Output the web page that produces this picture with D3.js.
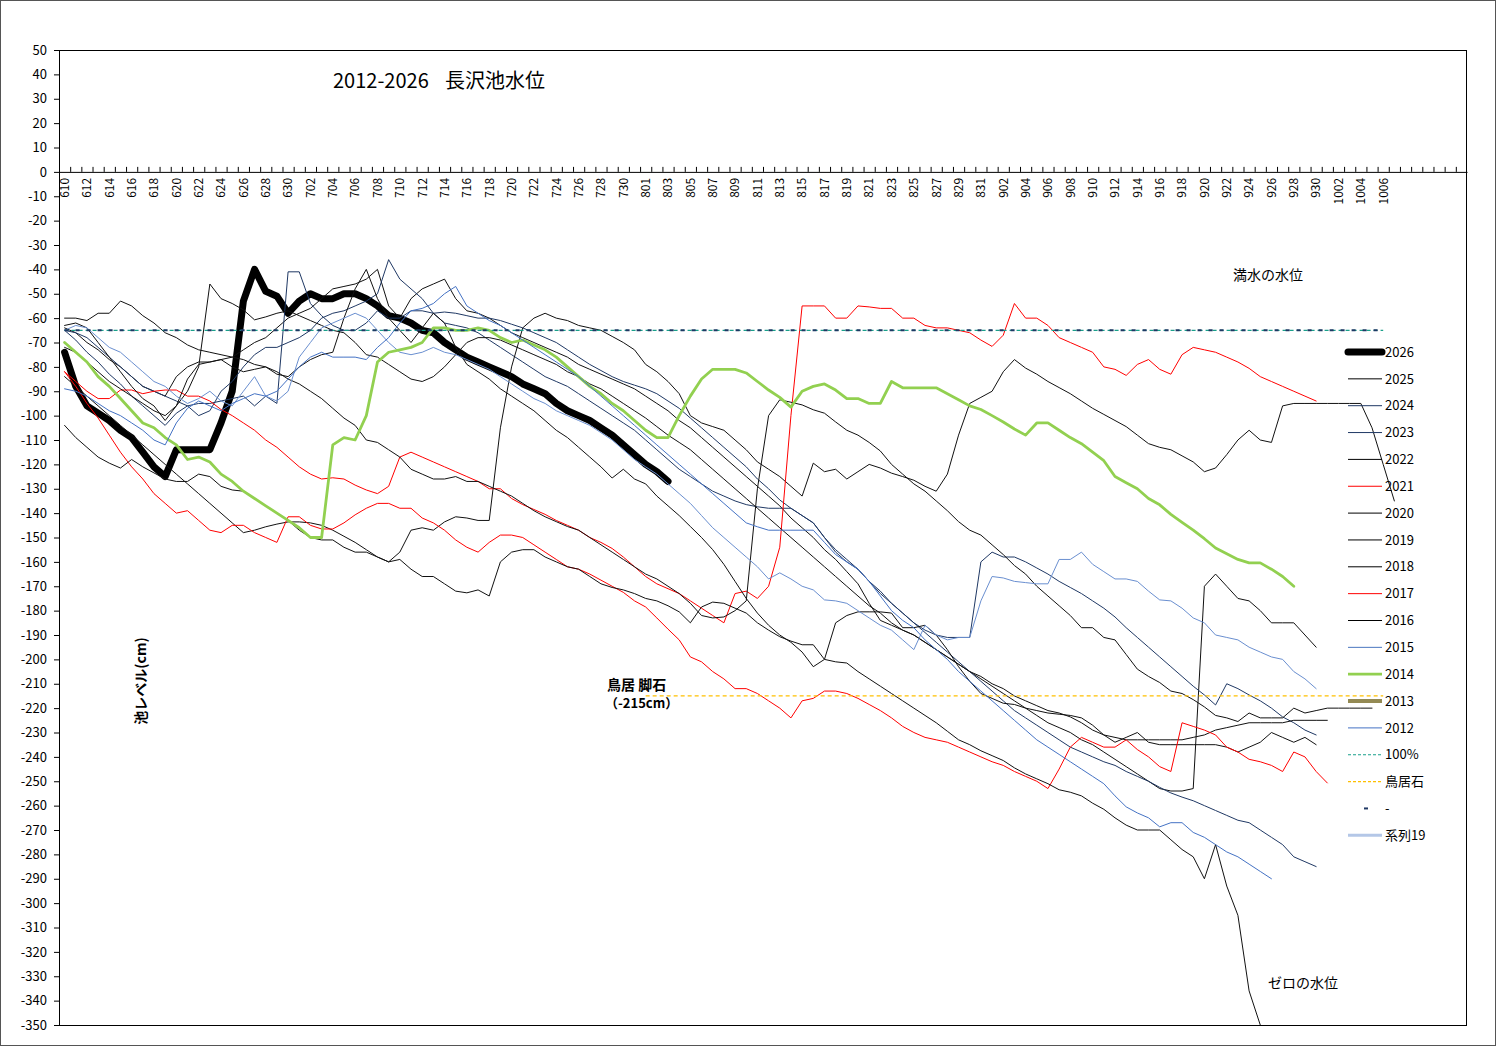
<!DOCTYPE html>
<html><head><meta charset="utf-8">
<script src="https://cdn.jsdelivr.net/npm/d3@7"></script>
<style>
body{margin:0;background:#fff}
svg{display:block}
text{font-family:"Noto Sans CJK JP","Noto Sans",sans-serif;fill:#000}
</style>
</head><body>
<svg id="chart" width="1497" height="1047"></svg>
<script>
// ---------------- data ----------------
const dateLabels = ("610 611 612 613 614 615 616 617 618 619 620 621 622 623 624 625 626 627 628 629 630 " +
  "701 702 703 704 705 706 707 708 709 710 711 712 713 714 715 716 717 718 719 720 721 722 723 724 725 726 727 728 729 730 731 " +
  "801 802 803 804 805 806 807 808 809 810 811 812 813 814 815 816 817 818 819 820 821 822 823 824 825 826 827 828 829 830 831 " +
  "901 902 903 904 905 906 907 908 909 910 911 912 913 914 915 916 917 918 919 920 921 922 923 924 925 926 927 928 929 930 " +
  "1001 1002 1003 1004 1005 1006 1007").split(" ");
const blankCategories = ["", "", "", "", "", ""];
const categories = dateLabels.concat(blankCategories);
const labeledTickIdx = [0,2,4,6,8,10,12,14,16,18,20,22,24,26,28,30,32,34,36,38,40,42,44,46,48,50,52,54,56,58,60,62,64,66,68,70,72,74,76,78,80,82,84,86,88,90,92,94,96,98,100,102,104,106,108,110,112,114,116,118];
const yTicks = [50,40,30,20,10,0,-10,-20,-30,-40,-50,-60,-70,-80,-90,-100,-110,-120,-130,-140,-150,-160,-170,-180,-190,-200,-210,-220,-230,-240,-250,-260,-270,-280,-290,-300,-310,-320,-330,-340,-350];

const s2026 = [-74,-88,-96,-99,-102,-106,-109,-115,-121,-125,-114,-114,-114,-114,-103,-90,-53,-40,-49,-51,-58,-53,-50,-52,-52,-50,-50,-52,-55,-59,-60,-62,-65,-66,-70,-73,-76,-78,-80,-82,-84,-87,-89,-91,-95,-98,-100,-102,-105,-108,-112,-116,-120,-123,-127];

const s2025 = [-64,-66,-70,-73,-77,-80,-84,-88,-90,-92,-84,-80,-78,-78,-77,-76,-73,-70,-68,-64,-60,-58,-56,-52,-48,-47,-46,-44,-40,-55,-60,-52,-48,-46,-44,-52,-57,-58,-60,-63,-66,-68,-70,-72,-74,-76,-79,-81,-83,-85,-87,-89,-92,-95,-98,-102,-105,-109,-113,-117,-121,-125,-129,-133,-137,-142,-146,-150,-155,-159,-164,-169,-177,-184,-186,-188,-190,-193,-196,-199,-202,-205,-208,-211,-214,-217,-220,-223,-226,-228,-230,-233,-235,-238,-241,-244,-247,-250,-253,-254,-254,-253,-170,-165,-170,-175,-176,-180,-185,-185,-185,-190,-195];

const s2024 = [-65,-69,-74,-78,-83,-87,-92,-96,-100,-104,-99,-96,-95,-95,-94,-93,-92,-96,-92,-95,-41,-41,-54,-59,-63,-65,-65,-62,-57,-60,-60,-57,-57,-58,-57.5,-58,-59,-60,-60,-61,-62.5,-64,-66,-68,-70,-73,-76,-79,-81.5,-84,-86,-87.5,-89,-91,-94,-97,-101,-105,-109,-113,-117,-121,-126,-130,-134.6,-138,-141,-144,-150,-155,-159,-163,-168,-173,-177,-181,-185,-188,-190,-191,-191,-191,-160,-156,-158,-158,-160,-162.5,-165,-168,-170.5,-173,-176,-179,-182.6,-187,-191,-195,-199,-203,-207,-211,-214.6,-218.7,-210,-212,-214.6,-217,-220,-223.6,-226,-229,-231];

const s2023 = [-65,-66,-68,-72,-76,-80,-84,-88,-90,-92,-94,-96,-100,-98,-90,-86,-80,-75,-72,-72,-70,-68,-65,-60,-58,-57,-55,-53,-50,-36,-44,-48,-52,-58,-62,-63,-64,-66,-69,-72,-75,-78,-81,-84,-86,-88,-91,-94,-97,-100,-103,-106,-110,-114,-118,-122,-125,-128,-131,-133,-135,-136.5,-137.4,-138,-138,-138,-141,-144,-150,-156,-160,-163,-168,-172,-177,-181,-185,-189,-193,-197,-201,-205,-209,-213,-217,-221,-224,-227,-230,-233,-236,-238,-240,-242,-243.5,-246,-248,-250,-252.5,-254.8,-256.5,-258,-260,-262,-264,-266,-267,-270,-273,-276,-281,-283,-285];

const s2022 = [-84,-88,-92,-96,-100,-104,-108,-112,-116,-120,-124,-128,-132,-136,-140,-144,-148,-147,-145.6,-144.5,-143.6,-143.6,-144,-145,-147,-149.5,-152,-155,-158,-160,-156,-147,-146,-147,-143.6,-141.5,-142,-143,-143,-105,-80,-64,-60,-58,-60,-61,-63,-64,-65,-67.5,-70,-73,-79,-82,-86,-91,-100,-103,-104.5,-106,-110,-114,-119,-122,-125,-129,-133,-119.5,-123,-122,-126,-123,-120,-121.5,-123.6,-125,-126.5,-129,-131,-124,-108,-95,-92.5,-90,-82,-77,-80.5,-83,-86,-88.5,-91,-94,-97,-99.5,-102,-104.5,-108,-111.5,-113,-114,-116.5,-119,-123,-121.5,-116,-110,-106,-110,-111,-96,-95,-95,-95,-95,-95,-95,-95,-105,-120,-135];

const s2021 = [-82,-86,-90,-93,-93,-89.5,-89.5,-91,-90,-89.5,-89.5,-92,-92,-94,-97.5,-100,-103,-106,-110,-113,-117,-121,-124,-126,-125.5,-126,-128.5,-130.5,-132,-129,-117,-115,-117,-119,-121,-123,-125,-127,-130,-130,-134,-136.5,-138.5,-140.5,-143,-145,-147,-150,-152,-154.5,-158,-162,-166,-169,-171,-173,-176,-179,-182,-185,-173,-172,-175,-170,-154,-100,-55,-55,-55,-60,-60,-55,-55.4,-56,-56,-60,-60,-63,-64,-64,-65,-66,-69,-71.6,-67,-54,-60,-60,-63,-68,-70,-72,-74,-80,-81,-83.5,-79,-77,-81,-83,-75,-72,-73,-74,-76,-78,-80.6,-84,-86,-88,-90,-92,-94];

const s2020 = [-60,-60,-61,-58,-58,-53,-55,-59,-62,-66,-68,-71,-73,-74,-75,-76,-77,-79,-80,-82,-85,-87,-90,-93,-97,-101,-104,-110,-111,-114,-117,-122,-124,-126,-126,-125,-127,-127,-129,-131,-133,-136,-139,-141.5,-143.5,-145.5,-147,-150,-153,-156,-159,-162,-165,-167,-170,-173,-177,-182,-183,-182.6,-180,-176,-130,-100,-93.5,-94.5,-95.6,-97.6,-99,-102.6,-106,-108,-111,-114.5,-120,-124,-128,-131,-135,-139,-143.5,-147,-149,-153,-157,-161.5,-165,-170,-174,-178,-182,-187,-187,-191,-192,-198,-204,-207,-209.5,-213,-214,-216.5,-219.5,-223,-224,-225.5,-222,-224,-224,-224,-220,-222,-221,-220,-220,-220,-220,-220];

const s2019 = [-72,-74,-78,-82,-86,-89,-92,-95,-98,-100,-96,-85,-79,-78,-77,-80,-82,-81,-80,-83,-84,-80,-77,-75,-74,-60,-48,-40,-52,-60,-65,-70,-64,-58,-62,-72,-79,-82,-85,-89,-92,-95,-98,-102,-106,-109,-113,-117,-121,-125.6,-122,-126,-128,-133,-137,-141,-145.5,-150,-155,-161,-168,-175,-181,-186,-190,-193,-197,-203,-200,-185,-182,-180.5,-180.5,-180.5,-181,-187,-187,-186,-190,-196,-203,-209,-214,-216,-218,-218.5,-220,-221,-222,-222.5,-223,-224,-227,-231,-234,-232,-230,-234,-235,-235,-235,-235,-235,-235,-236,-238,-236,-234,-230,-232,-234,-232,-235];

const s2018 = [-63,-62,-64,-70,-76,-82,-88,-93,-96,-102,-96,-90,-80,-46,-52,-54,-56.6,-60.7,-59.5,-58,-57,-59,-61,-63,-65,-66,-70,-75,-76,-79,-82,-85,-86,-84,-80,-75,-70,-68,-68,-69,-71,-73,-75,-77,-79,-82,-84,-87,-89,-92,-95,-98,-101,-104.5,-108,-111,-114,-118,-122,-126,-130,-134,-138,-142,-146,-150,-154,-158,-162,-166,-170,-174,-178,-181,-185,-188,-190,-193,-196,-199,-202,-205,-207,-210,-212,-215,-217,-219,-221,-222,-223.6,-226,-229,-231,-232,-233,-233,-233,-233,-233,-233,-232,-231,-229,-228,-227,-226,-226,-226,-226,-225,-225,-225,-225];

const s2017 = [-82,-88,-95,-101,-108,-115,-121,-126,-132,-136,-140,-139,-143,-147,-148,-145,-145,-148,-150,-152,-141.5,-141.5,-145,-146.5,-146.5,-144,-140.7,-138,-136,-136,-138,-138,-142,-144,-147,-151,-154,-156,-152,-149,-149,-150,-153,-156,-159,-162,-163,-165,-167.5,-170,-172.5,-176,-178.5,-183,-187.6,-192,-199,-201,-205,-208,-212,-212,-214,-217,-220,-224,-217,-216,-213,-213,-214,-216,-218.5,-221,-224,-227.5,-230,-232,-233,-234,-236,-238,-240,-242,-243.5,-246,-248,-250,-253,-245,-236,-232,-234,-236,-236,-233,-237,-240,-244,-246,-226,-227.5,-229,-231,-236,-238,-241,-242,-243.5,-246,-238,-240,-246,-250.7];

const s2016 = [-104,-109,-113,-117,-119.5,-121.5,-118,-121,-123.5,-126,-127,-127,-124,-125,-129,-130.5,-131,-134,-137,-140,-143,-147,-150,-151,-151,-154,-156,-156,-158,-160,-159,-163,-166,-166,-169,-172,-172.7,-171.5,-174,-160,-156,-155,-155,-158,-160,-162,-163,-166,-169,-170.5,-171.5,-173,-175,-176,-178,-180.5,-185,-178.5,-176.5,-177,-179,-181,-185,-188,-190.7,-192.5,-194,-194,-200,-201,-201.5,-205,-208,-211,-214,-217,-220,-223,-226,-229.5,-233,-235,-237.5,-239.5,-241.5,-244.5,-247,-249,-251,-253.5,-254.5,-256,-259,-261.5,-265,-268,-270,-270,-270,-274,-278,-281,-290,-276,-293,-305,-336,-350];

const s2015 = [-65,-63,-64,-68,-72,-74,-78,-82,-86,-88,-92,-95,-93,-90,-94,-96,-90,-84,-92,-94,-90,-76,-70,-64,-62,-60,-58,-60,-65,-70,-74,-75,-74,-72,-74,-75,-77,-79,-81,-84,-87,-90,-93,-95,-98,-100,-102,-104,-107,-110,-114,-118,-121,-124,-128,-132,-136,-141,-146,-150,-154,-158,-162,-167,-164.5,-167,-170,-171.5,-175.6,-176,-177,-180,-183,-186,-188,-192,-196,-186,-190,-192,-191,-191,-176,-166,-166.6,-168,-168.5,-169,-169,-159,-159,-156,-161,-164,-167,-167,-168,-172,-175.6,-176,-179,-183,-185,-190,-191,-192,-195,-197,-199,-200,-205,-208,-212];

const s2014 = [-70,-74,-78,-84,-88,-93,-98,-103,-105,-109,-112,-118,-117,-119,-124,-127,-131,-134,-137,-140,-143,-146,-150,-150,-112,-109,-110,-100,-78,-74,-73,-72,-70,-64,-64,-65,-65,-64,-65,-68,-70,-69,-71,-73,-76,-80,-84,-88,-91,-95,-98,-102,-106,-109,-109,-100,-92,-85,-81,-81,-81,-82.5,-86,-89.5,-92.5,-96.5,-90,-88,-87,-89.5,-93,-93,-95,-95,-86,-88.6,-88.6,-88.6,-88.6,-91,-93.5,-96,-97.5,-100,-102.6,-105.5,-108,-103,-103,-106,-109,-111.5,-115,-118.5,-125,-127.5,-130,-134,-136.6,-140.5,-143.8,-147,-150.5,-154.3,-156.7,-159,-160.4,-160.4,-163,-166,-170];

const s2013 = [];

const s2012 = [-89,-90,-92,-95,-98,-100,-103,-106,-110,-112,-103,-97,-94,-96,-98,-95,-93,-91,-92,-90,-85,-80,-76,-74,-76,-76,-76,-77,-72,-68,-62,-57,-56,-54,-50,-47,-55,-58,-61,-63,-66,-69,-72,-75,-78,-81,-84,-88,-92,-96,-100,-104,-108,-112,-116,-120,-124,-128,-132,-136,-140,-144,-145.6,-147,-147,-147,-147,-147,-152,-157,-160,-163,-168,-174,-180,-184,-187,-192,-196,-200,-205,-209,-213,-217,-221,-225,-229,-233,-236,-239,-242,-245,-248,-251,-256,-260.5,-263,-265,-268.7,-267,-267,-271,-273,-276,-279,-281,-284,-287,-290];

const sSeries19 = [];

// reference levels
const fullLevel = -65;     // 100%
const toriiLevel = -215;   // 鳥居石
const fullFrom = "610", fullTo = "1006";
const toriiFrom = "801", toriiTo = "1006";

const legendNames = ["2026","2025","2024","2023","2022","2021","2020","2019","2018","2017","2016","2015","2014","2013","2012","100%","鳥居石","-","系列19"];

// ---------------- drawing ----------------
const svg = d3.select("#chart");
const L = 59, R = 1467, T = 50, B = 1025;

svg.append("rect").attr("x",0.5).attr("y",0.5).attr("width",1495).attr("height",1045)
  .attr("fill","#fff").attr("stroke","#555").attr("stroke-width",1);

const x = d3.scaleBand().domain(categories.map((c,i)=>i)).range([L,R]).padding(0);
const bw = x.bandwidth();
const cx = i => x(i) + bw/2;
const y = d3.scaleLinear().domain([-350,50]).range([B,T]);

svg.append("defs").append("clipPath").attr("id","plotclip")
  .append("rect").attr("x",L).attr("y",T).attr("width",R-L).attr("height",B-T);

// y axis
const yAxis = svg.append("g").attr("transform",`translate(${L},0)`)
  .call(d3.axisLeft(y).tickValues(yTicks).tickSizeInner(5).tickSizeOuter(0).tickPadding(7).tickFormat(d=>String(d)));
yAxis.selectAll("text").attr("font-size",13).style("font-family",'"Noto Sans CJK JP",sans-serif');
yAxis.selectAll("line,path").attr("stroke","#000");

// x axis (at value 0): boundary tick marks
const xb = d3.scaleLinear().domain([0,categories.length]).range([L,R]);
const xTicksG = svg.append("g").attr("transform",`translate(0,${y(0)})`)
  .call(d3.axisBottom(xb).tickValues(categories.map((c,i)=>i).slice(1)).tickSizeInner(-5).tickSizeOuter(0).tickFormat(""));
xTicksG.selectAll("line,path").attr("stroke","#000");

// x labels
const xLab = svg.append("g").attr("transform",`translate(0,${y(0)})`)
  .call(d3.axisBottom(x).tickValues(labeledTickIdx).tickSize(0).tickFormat(i=>categories[i]));
xLab.select(".domain").remove();
xLab.selectAll("text")
  .attr("transform","rotate(-90)").attr("text-anchor","end")
  .attr("x",-6).attr("y",0).attr("dy","0.36em")
  .attr("font-size",12).style("font-family",'"Noto Sans CJK JP",sans-serif');

// plot border
svg.append("rect").attr("x",L+0.5).attr("y",T+0.5).attr("width",R-L-1).attr("height",B-T)
  .attr("fill","none").attr("stroke","#000").attr("stroke-width",1);

const series = [
  {name:"2026", data:s2026, color:"#000000", w:7},
  {name:"2025", data:s2025, color:"#111111", w:1},
  {name:"2024", data:s2024, color:"#1f3864", w:1},
  {name:"2023", data:s2023, color:"#1f3864", w:1},
  {name:"2022", data:s2022, color:"#111111", w:1},
  {name:"2021", data:s2021, color:"#ff0000", w:1},
  {name:"2020", data:s2020, color:"#111111", w:1},
  {name:"2019", data:s2019, color:"#111111", w:1},
  {name:"2018", data:s2018, color:"#111111", w:1},
  {name:"2017", data:s2017, color:"#ff0000", w:1},
  {name:"2016", data:s2016, color:"#111111", w:1},
  {name:"2015", data:s2015, color:"#6a8fd0", w:1},
  {name:"2014", data:s2014, color:"#92d050", w:2.8},
  {name:"2013", data:s2013, color:"#948a54", w:4},
  {name:"2012", data:s2012, color:"#4472c4", w:1},
];

const line = d3.line().x((d,i)=>cx(i)).y(d=>y(d));
const plot = svg.append("g").attr("clip-path","url(#plotclip)");
series.forEach(s=>{
  if(!s.data.length) return;
  plot.append("path").datum(s.data).attr("d",line)
    .attr("fill","none").attr("stroke",s.color).attr("stroke-width",s.w)
    .attr("stroke-linejoin","round").attr("stroke-linecap","round");
});

// reference lines
const ci = c => categories.indexOf(c);
plot.append("line").attr("x1",cx(ci(fullFrom))).attr("x2",cx(ci(fullTo)))
  .attr("y1",y(fullLevel)).attr("y2",y(fullLevel))
  .attr("stroke","#1aa08a").attr("stroke-width",1.3).attr("stroke-dasharray","4,3");
plot.append("line").attr("x1",cx(ci(toriiFrom))).attr("x2",cx(ci(toriiTo)))
  .attr("y1",y(toriiLevel)).attr("y2",y(toriiLevel))
  .attr("stroke","#ffc000").attr("stroke-width",1.3).attr("stroke-dasharray","4,3");
plot.append("line").attr("x1",cx(ci(fullFrom))).attr("x2",cx(ci(fullTo)))
  .attr("y1",y(fullLevel)).attr("y2",y(fullLevel))
  .attr("stroke","#1f3864").attr("stroke-width",2).attr("stroke-dasharray","4,7");

// legend
const legStyles = {
  "2026":{c:"#000",w:7,cap:"round"}, "2025":{c:"#000",w:1}, "2024":{c:"#1f3864",w:1}, "2023":{c:"#1f3864",w:1},
  "2022":{c:"#000",w:1}, "2021":{c:"#ff0000",w:1}, "2020":{c:"#000",w:1}, "2019":{c:"#000",w:1},
  "2018":{c:"#000",w:1}, "2017":{c:"#ff0000",w:1}, "2016":{c:"#000",w:1}, "2015":{c:"#4a76c0",w:1},
  "2014":{c:"#92d050",w:2.8}, "2013":{c:"#948a54",w:4}, "2012":{c:"#4472c4",w:1},
  "100%":{c:"#1aa08a",w:1.2,dash:"3,2"}, "鳥居石":{c:"#ffc000",w:1.2,dash:"3,2"},
  "-":{c:"#1f3864",w:2,short:true}, "系列19":{c:"#b4c7e7",w:3}
};
const leg = svg.append("g");
legendNames.forEach((n,k)=>{
  const yy = 352 + k*26.85;
  const st = legStyles[n];
  if(st.short){
    leg.append("line").attr("x1",1364).attr("x2",1368).attr("y1",yy).attr("y2",yy)
      .attr("stroke",st.c).attr("stroke-width",st.w);
  } else {
    leg.append("line").attr("x1",1348).attr("x2",1382).attr("y1",yy).attr("y2",yy)
      .attr("stroke",st.c).attr("stroke-width",st.w).attr("stroke-linecap",st.cap||"butt")
      .attr("stroke-dasharray",st.dash||null);
  }
  leg.append("text").attr("x",1385).attr("y",yy).attr("dy","0.36em").attr("font-size",13).text(n);
});

// titles & annotations
svg.append("text").attr("x",333).attr("y",88).attr("font-size",20).text("2012-2026");
svg.append("text").attr("x",445).attr("y",88).attr("font-size",20).text("長沢池水位");
svg.append("text").attr("x",1233).attr("y",280).attr("font-size",14).text("満水の水位");
svg.append("text").attr("x",607).attr("y",690).attr("font-size",14).attr("font-weight","bold").text("鳥居 脚石");
svg.append("text").attr("x",605).attr("y",708).attr("font-size",13).attr("font-weight","bold").text("（-215cm）");
svg.append("text").attr("x",1268).attr("y",988).attr("font-size",14).text("ゼロの水位");
svg.append("text").attr("transform","translate(146,681) rotate(-90)").attr("text-anchor","middle")
  .attr("font-size",14).attr("font-weight","bold").text("池レベル(cm)");
</script>
</body></html>
